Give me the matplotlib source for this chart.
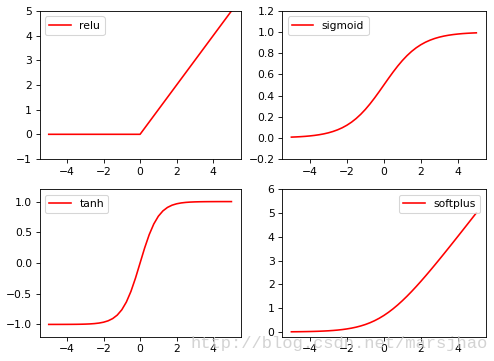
import matplotlib
matplotlib.use("Agg")
import matplotlib.pyplot as plt

# sample points (step 0.25)
x = [-5.0, -4.75, -4.5, -4.25, -4.0, -3.75, -3.5, -3.25, -3.0, -2.75, -2.5,
     -2.25, -2.0, -1.75, -1.5, -1.25, -1.0, -0.75, -0.5, -0.25, 0.0,
     0.25, 0.5, 0.75, 1.0, 1.25, 1.5, 1.75, 2.0, 2.25, 2.5,
     2.75, 3.0, 3.25, 3.5, 3.75, 4.0, 4.25, 4.5, 4.75, 5.0]

y_relu = [0] * 21 + [0.25, 0.5, 0.75, 1.0, 1.25, 1.5, 1.75, 2.0, 2.25, 2.5,
                     2.75, 3.0, 3.25, 3.5, 3.75, 4.0, 4.25, 4.5, 4.75, 5.0]

y_sigmoid = [0.0067, 0.0086, 0.0110, 0.0140, 0.0180, 0.0230, 0.0293, 0.0373, 0.0474, 0.0601, 0.0759,
             0.0953, 0.1192, 0.1480, 0.1824, 0.2227, 0.2689, 0.3208, 0.3775, 0.4378, 0.5,
             0.5622, 0.6225, 0.6792, 0.7311, 0.7773, 0.8176, 0.8520, 0.8808, 0.9047, 0.9241,
             0.9399, 0.9526, 0.9627, 0.9707, 0.9770, 0.9820, 0.9860, 0.9890, 0.9914, 0.9933]

y_tanh = [-0.9999, -0.9999, -0.9998, -0.9996, -0.9993, -0.9989, -0.9982, -0.9970, -0.9951, -0.9919, -0.9866,
          -0.9780, -0.9640, -0.9414, -0.9051, -0.8483, -0.7616, -0.6351, -0.4621, -0.2449, 0.0,
          0.2449, 0.4621, 0.6351, 0.7616, 0.8483, 0.9051, 0.9414, 0.9640, 0.9780, 0.9866,
          0.9919, 0.9951, 0.9970, 0.9982, 0.9989, 0.9993, 0.9996, 0.9998, 0.9999, 0.9999]

y_softplus = [0.0067, 0.0086, 0.0111, 0.0142, 0.0182, 0.0232, 0.0298, 0.0381, 0.0486, 0.0620, 0.0789,
              0.1002, 0.1269, 0.1603, 0.2014, 0.2519, 0.3133, 0.3869, 0.4741, 0.5759, 0.6931,
              0.8259, 0.9741, 1.1369, 1.3133, 1.5019, 1.7014, 1.9103, 2.1269, 2.3502, 2.5789,
              2.8120, 3.0486, 3.2881, 3.5298, 3.7732, 4.0182, 4.2642, 4.5111, 4.7586, 5.0067]

relu_ticks = [-1, 0, 1, 2, 3, 4, 5]
sigmoid_ticks = [-0.2, 0.0, 0.2, 0.4, 0.6, 0.8, 1.0, 1.2]
tanh_ticks = [-1.0, -0.5, 0.0, 0.5, 1.0]
softplus_ticks = [0, 1, 2, 3, 4, 5, 6]

panels = [
    ("relu", y_relu, (-1, 5), relu_ticks, "upper left"),
    ("sigmoid", y_sigmoid, (-0.2, 1.2), sigmoid_ticks, "upper left"),
    ("tanh", y_tanh, (-1.2, 1.2), tanh_ticks, "upper left"),
    ("softplus", y_softplus, (-0.2, 6), softplus_ticks, "upper right"),
]

# axes boxes in figure fractions
boxes = [
    [0.080, 0.5596, 0.406, 0.4099],
    [0.570, 0.5596, 0.411, 0.4099],
    [0.080, 0.0673, 0.406, 0.4083],
    [0.570, 0.0673, 0.411, 0.4083],
]

fig = plt.figure(figsize=(6.4, 4.668), dpi=77.34)

for (name, y, ylim, ticks, loc), box in zip(panels, boxes):
    ax = fig.add_axes(box)
    ax.plot(x, y, c="red", label=name)
    ax.set_ylim(ylim)
    ax.set_yticks(ticks)
    ax.legend(loc=loc)

# watermark
fig.text(191 / 495, 1 - 348 / 361, "http://blog.csdn.net/marsjhao",
         family="Liberation Mono", fontsize=16, color="#c8c8c8",
         alpha=0.8, ha="left", va="baseline")

fig.savefig("out.png", dpi=77.34)
